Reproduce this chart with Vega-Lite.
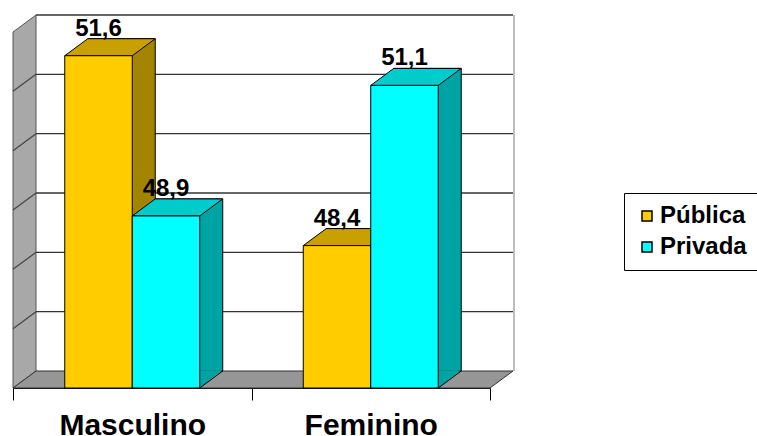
{
  "$schema": "https://vega.github.io/schema/vega-lite/v6.json",
  "width": 477,
  "height": 356,
  "autosize": {"type": "none"},
  "padding": {"left": 13, "top": 32, "right": 267, "bottom": 48},
  "background": "white",
  "config": {
    "view": {"stroke": null},
    "font": "Liberation Sans",
    "locale": {"number": {"decimal": ",", "thousands": ".", "grouping": [3], "currency": ["", ""]}},
    "axisX": {"labelAngle": 0, "labelFontSize": 30, "labelFontWeight": "bold", "labelColor": "black", "labelFont": "Liberation Sans", "domainColor": "black", "domainWidth": 1, "tickColor": "black", "tickSize": 12, "tickWidth": 1, "tickBand": "extent", "labelPadding": 34, "labelBaseline": "alphabetic", "grid": false}
  },
  "datasets": {
    "barras": [
      {"sexo": "Masculino", "tipo": "Pública", "pct": 51.6},
      {"sexo": "Masculino", "tipo": "Privada", "pct": 48.9},
      {"sexo": "Feminino", "tipo": "Pública", "pct": 48.4},
      {"sexo": "Feminino", "tipo": "Privada", "pct": 51.1}
    ],
    "grade": [{"v": 47}, {"v": 48}, {"v": 49}, {"v": 50}, {"v": 51}, {"v": 52}],
    "base": [{"v": 46}]
  },
  "resolve": {"scale": {"color": "independent"}},
  "layer": [
    {
      "data": {"name": "base"},
      "mark": {"type": "point", "shape": "M0,0 L23,-17 L23,-373 L0,-356 Z", "size": 4, "filled": true, "color": "#a8a8a8", "stroke": "#555555", "strokeWidth": 1, "opacity": 1},
      "encoding": {
        "x": {"datum": "Masculino", "type": "nominal", "bandPosition": 0, "scale": {"domain": ["Masculino", "Feminino"], "paddingInner": 0, "paddingOuter": 0}, "axis": {"title": null}},
        "y": {"field": "v", "type": "quantitative", "scale": {"domain": [46, 52], "zero": false, "nice": false}, "axis": null}
      }
    },
    {
      "data": {"name": "base"},
      "mark": {"type": "point", "shape": "M0,0 L477,0 L500,-17 L23,-17 Z", "size": 4, "filled": true, "color": "#969696", "stroke": "#333333", "strokeWidth": 1, "opacity": 1},
      "encoding": {
        "x": {"datum": "Masculino", "type": "nominal", "bandPosition": 0, "axis": {"title": null}},
        "y": {"field": "v", "type": "quantitative", "axis": null}
      }
    },
    {
      "data": {"name": "grade"},
      "mark": {"type": "rule", "color": "#333333", "strokeWidth": 1.3, "xOffset": 23, "x2Offset": 23, "yOffset": -17},
      "encoding": {
        "x": {"datum": "Masculino", "type": "nominal", "bandPosition": 0, "axis": {"title": null}},
        "x2": {"datum": "Feminino", "bandPosition": 1},
        "y": {"field": "v", "type": "quantitative", "axis": null}
      }
    },
    {
      "data": {"name": "grade"},
      "transform": [{"filter": "datum.v < 52"}],
      "mark": {"type": "rule", "color": "#444444", "strokeWidth": 1.2, "x2Offset": 23, "y2Offset": -17},
      "encoding": {
        "x": {"datum": "Masculino", "type": "nominal", "bandPosition": 0, "axis": {"title": null}},
        "x2": {"datum": "Masculino", "bandPosition": 0},
        "y": {"field": "v", "type": "quantitative", "axis": null},
        "y2": {"field": "v"}
      }
    },
    {
      "data": {"name": "base"},
      "mark": {"type": "rule", "color": "#bdbdbd", "strokeWidth": 2, "xOffset": 24, "yOffset": -17, "y2Offset": -17},
      "encoding": {
        "x": {"datum": "Feminino", "type": "nominal", "bandPosition": 1, "axis": {"title": null}},
        "y": {"datum": 52, "type": "quantitative", "axis": null},
        "y2": {"datum": 46}
      }
    },
    {
      "data": {"name": "barras"},
      "transform": [{"filter": "datum.tipo == 'Pública'"}],
      "mark": {"type": "bar", "width": {"band": 0.283}, "xOffset": -10.75, "yOffset": -17, "y2Offset": -17, "color": "#a38400", "stroke": "black", "strokeWidth": 1},
      "encoding": {
        "x": {"field": "sexo", "type": "nominal", "axis": {"title": null}},
        "y": {"field": "pct", "type": "quantitative", "axis": null},
        "y2": {"datum": 46}
      }
    },
    {
      "data": {"name": "barras"},
      "transform": [{"filter": "datum.tipo == 'Privada'"}],
      "mark": {"type": "bar", "width": {"band": 0.283}, "xOffset": 56.75, "yOffset": -17, "y2Offset": -17, "color": "#00a3a3", "stroke": "black", "strokeWidth": 1},
      "encoding": {
        "x": {"field": "sexo", "type": "nominal", "axis": {"title": null}},
        "y": {"field": "pct", "type": "quantitative", "axis": null},
        "y2": {"datum": 46}
      }
    },
    {
      "data": {"name": "barras"},
      "mark": {"type": "point", "shape": "M33.75,0 L33.75,-17.7 L56.3,-17.7 Z", "size": 4, "filled": true, "opacity": 1, "strokeWidth": 0},
      "encoding": {
        "x": {"field": "sexo", "type": "nominal", "axis": {"title": null}},
        "xOffset": {"field": "tipo", "type": "nominal", "scale": {"domain": ["Pública", "Privada"], "paddingInner": 0, "paddingOuter": 0.767}},
        "y": {"datum": 46, "type": "quantitative", "axis": null},
        "color": {"field": "tipo", "type": "nominal", "scale": {"domain": ["Pública", "Privada"], "range": ["#a38400", "#00a3a3"]}, "legend": null}
      }
    },
    {
      "data": {"name": "barras"},
      "mark": {"type": "point", "shape": "M33.75,0 L56.75,-17", "size": 4, "filled": false, "color": "black", "strokeWidth": 1, "opacity": 1},
      "encoding": {
        "x": {"field": "sexo", "type": "nominal", "axis": {"title": null}},
        "xOffset": {"field": "tipo", "type": "nominal"},
        "y": {"datum": 46, "type": "quantitative", "axis": null}
      }
    },
    {
      "data": {"name": "barras"},
      "mark": {"type": "point", "shape": "M-33.75,0 L33.75,0 L56.75,-17 L-10.75,-17 Z", "size": 4, "filled": true, "stroke": "black", "strokeWidth": 1, "opacity": 1},
      "encoding": {
        "x": {"field": "sexo", "type": "nominal", "axis": {"title": null}},
        "xOffset": {"field": "tipo", "type": "nominal"},
        "y": {"field": "pct", "type": "quantitative", "axis": null},
        "color": {"field": "tipo", "type": "nominal", "scale": {"domain": ["Pública", "Privada"], "range": ["#c8a100", "#00cccc"]}, "legend": null}
      }
    },
    {
      "data": {"name": "barras"},
      "mark": {"type": "bar", "stroke": "black", "strokeWidth": 1},
      "encoding": {
        "x": {"field": "sexo", "type": "nominal", "axis": {"title": null}},
        "xOffset": {"field": "tipo", "type": "nominal"},
        "y": {"field": "pct", "type": "quantitative", "axis": null},
        "y2": {"datum": 46},
        "color": {
          "field": "tipo", "type": "nominal",
          "scale": {"domain": ["Pública", "Privada"], "range": ["#ffcc00", "#00ffff"]},
          "legend": {"title": null, "orient": "none", "legendX": 611, "legendY": 161, "symbolType": "square", "symbolSize": 100, "symbolStrokeColor": "black", "symbolStrokeWidth": 1.5, "labelFontSize": 24, "labelFontWeight": "bold", "labelColor": "black", "labelFont": "Liberation Sans", "strokeColor": "black", "fillColor": "white", "padding": 11, "rowPadding": 7, "symbolOffset": 0, "labelOffset": 1}
        }
      }
    },
    {
      "data": {"name": "barras"},
      "mark": {"type": "text", "dy": -20, "fontSize": 24, "fontWeight": "bold", "baseline": "alphabetic", "align": "center", "color": "black", "font": "Liberation Sans"},
      "encoding": {
        "x": {"field": "sexo", "type": "nominal", "axis": {"title": null}},
        "xOffset": {"field": "tipo", "type": "nominal"},
        "y": {"field": "pct", "type": "quantitative", "axis": null},
        "text": {"field": "pct", "type": "quantitative", "format": ".1f"}
      }
    }
  ]
}
